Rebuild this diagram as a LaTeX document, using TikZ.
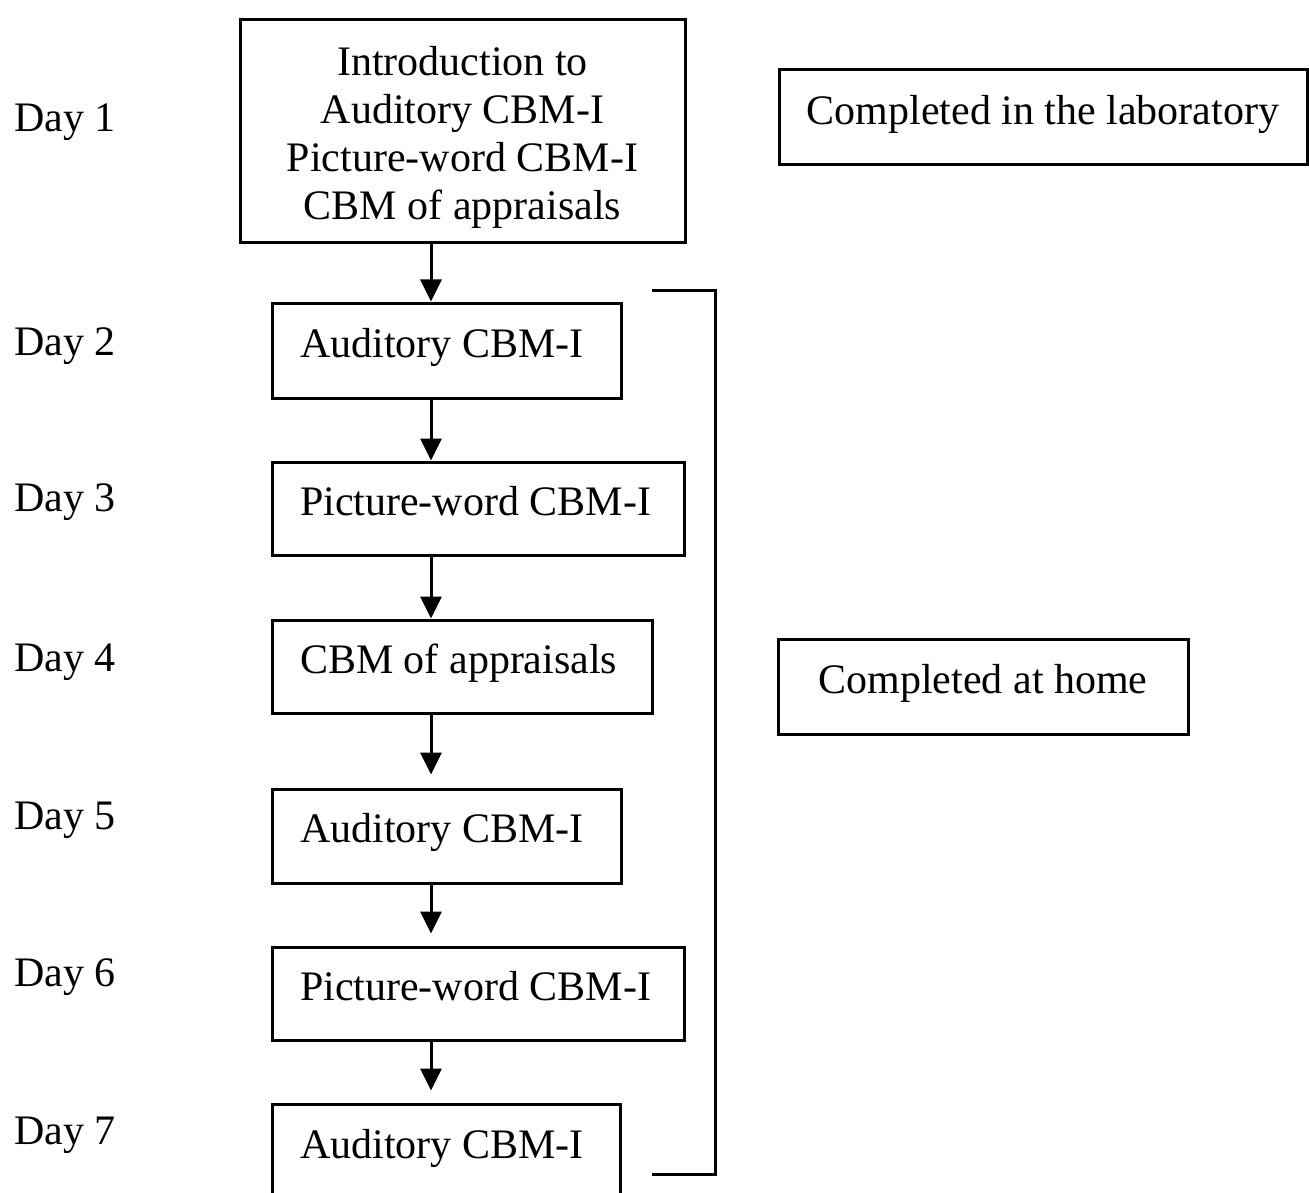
\documentclass[tikz,border=0pt]{standalone}
\usepackage{fontspec}
\setmainfont{Liberation Serif}
\usetikzlibrary{arrows.meta}
% one line of box text with the font's own interword spacing
\newcommand\boxline[1]{\mbox{\spaceskip=0pt\xspaceskip=0pt\relax #1}}
\begin{document}
\begin{tikzpicture}[x=0.5pt,y=-0.5pt,
  every node/.style={font=\fontsize{21}{24}\selectfont},
  stage/.style={draw, line width=1.5pt, inner xsep=14pt, inner ysep=0pt,
    align=left, text height=14pt, text depth=7.5pt},
  intro/.style={draw, line width=1.5pt, inner sep=0pt, align=center,
    minimum width=222.5pt, minimum height=111.5pt,
    text height=88.5pt, text depth=0pt},
  note/.style={draw, line width=1.5pt, inner sep=0pt,
    minimum height=47.5pt, text height=14pt, text depth=7pt},
  day/.style={anchor=base west, inner sep=0pt},
  flow/.style={line width=1.5pt, -{Triangle[length=11pt,width=10.5pt]}},
  brace/.style={line width=1.5pt}]
\useasboundingbox (0,0) rectangle (1309,1192);

% day labels
\node[day] (d1) at (14,132)  {Day 1};
\node[day] (d2) at (14,355)  {Day 2};
\node[day] (d3) at (14,511)  {Day 3};
\node[day] (d4) at (14,671)  {Day 4};
\node[day] (d5) at (14,829)  {Day 5};
\node[day] (d6) at (14,986)  {Day 6};
\node[day] (d7) at (14,1144) {Day 7};

% session boxes
\node[intro] (b1) at (462.5,131.5)
  {Introduction to\\Auditory CBM-I\\Picture-word CBM-I\\CBM of appraisals};
\node[stage, text width=146.5pt, minimum height=47.5pt] (b2) at (446.5,350.5) {\boxline{Auditory CBM-I}};
\node[stage, text width=178pt,   minimum height=46.5pt] (b3) at (478,508.5)   {\boxline{Picture-word CBM-I}};
\node[stage, text width=162pt,   minimum height=46.5pt] (b4) at (462,666.5)   {\boxline{CBM of appraisals}};
\node[stage, text width=146.5pt, minimum height=47pt]   (b5) at (446.5,836)   {\boxline{Auditory CBM-I}};
\node[stage, text width=178pt,   minimum height=46.5pt] (b6) at (478,993.5)   {\boxline{Picture-word CBM-I}};
\node[stage, text width=146pt,   minimum height=47.5pt] (b7) at (446,1151.5)  {\boxline{Auditory CBM-I}};

% location notes
\node[note, minimum width=264pt] (lab)  at (1043,117.5) {Completed in the laboratory};
\node[note, minimum width=205pt] (home) at (983,686.5)  {Completed at home};

% flow between days
\coordinate (spine) at (431,0);
\draw[flow] (b1.south -| spine) -- (b2.north -| spine);
\draw[flow] (b2.south -| spine) -- (b3.north -| spine);
\draw[flow] (b3.south -| spine) -- (b4.north -| spine);
\draw[flow, shorten >=6.5pt] (b4.south -| spine) -- (b5.north -| spine);
\draw[flow, shorten >=6pt]   (b5.south -| spine) -- (b6.north -| spine);
\draw[flow, shorten >=6pt]   (b6.south -| spine) -- (b7.north -| spine);

% bracket grouping the home sessions
\coordinate (bt) at (652,291);
\coordinate (bb) at (652,1174);
\draw[brace] (bt) -- ++(63,0) |- (bb);
\end{tikzpicture}
\end{document}
